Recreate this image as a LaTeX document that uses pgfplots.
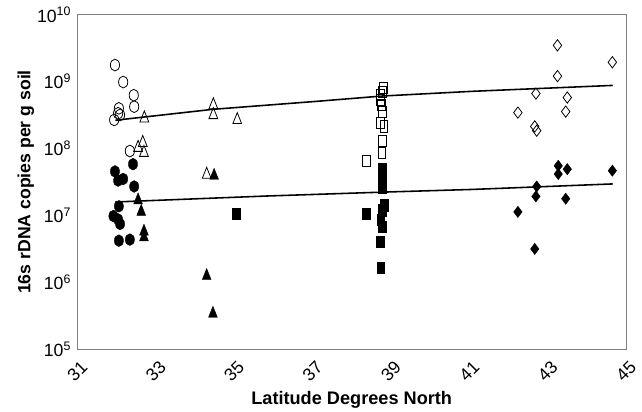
\documentclass[border=0pt]{standalone}
\usepackage{fontspec}
\setmainfont{Liberation Sans}
\usepackage{pgfplots}
\pgfplotsset{compat=1.18}
\begin{document}
\begin{tikzpicture}
\begin{axis}[
  width=557bp, height=339.5bp, scale only axis,
  xmin=31, xmax=45,
  ymode=log, ymin=1e5, ymax=1e10,
  xtick={31,33,35,37,39,41,43,45},
  xticklabels={31,33,35,37,39,41,43,45},
  ytick={1e5,1e6,1e7,1e8,1e9,1e10},
  yticklabels={10\textsuperscript{5},10\textsuperscript{6},10\textsuperscript{7},10\textsuperscript{8},10\textsuperscript{9},10\textsuperscript{10}},
  major tick length=0pt, minor tick length=0pt,
  axis line style={draw=black!50, line width=0.9pt},
  tick label style={font=\fontsize{18}{20}\selectfont},
  xticklabel style={yshift=-22bp, rotate=45, anchor=center},
  yticklabel style={xshift=-3bp},
  xlabel={Latitude Degrees North},
  ylabel={16s rDNA copies per g soil},
  xlabel style={font=\bfseries\fontsize{18.5}{20}\selectfont, at={(axis description cs:0.5,-0.152)}, anchor=center},
  ylabel style={font=\bfseries\fontsize{18}{20}\selectfont, at={(axis description cs:-0.094,0.5)}, anchor=center},
]
% open circles
\addplot[only marks, mark=o, mark size=6pt, mark options={xscale=0.78, line width=0.8pt, draw=black}]
coordinates {(31.96,1.77e9) (32.17,9.87e8) (32.44,6.27e8) (32.45,4.23e8) (32.06,3.99e8) (32.04,3.37e8) (31.94,2.68e8) (32.09,3.18e8) (32.34,9.18e7)};
% filled circles
\addplot[only marks, mark=*, mark size=6pt, mark options={xscale=0.78, draw=black, fill=black}]
coordinates {(32.42,5.84e7) (31.96,4.55e7) (32.04,3.32e7) (32.17,3.51e7) (32.45,2.71e7) (32.06,1.37e7) (31.92,9.8e6) (32.04,8.73e6) (32.09,7.46e6) (32.06,4.2e6) (32.34,4.35e6)};
% open triangles
\addplot[only marks, mark=triangle, mark size=5.75pt, mark options={xscale=0.9, yscale=1.3, line width=0.8pt, draw=black}]
coordinates {(32.71,2.84e8) (34.47,4.46e8) (34.47,3.18e8) (35.08,2.68e8) (32.55,1.03e8) (32.67,1.22e8) (32.70,8.67e7) (34.30,4.07e7)};
% filled triangles
\addplot[only marks, mark=triangle*, mark size=5.75pt, mark options={xscale=0.9, yscale=1.3, draw=black, fill=black}]
coordinates {(34.49,3.94e7) (32.55,1.69e7) (32.63,1.14e7) (32.70,5.76e6) (32.70,4.74e6) (34.30,1.25e6) (34.46,3.41e5)};
% open squares
\addplot[only marks, mark=square, mark size=5pt, mark options={xscale=0.8, yscale=1.15, line width=0.8pt, draw=black}]
coordinates {(38.80,8.05e8) (38.78,7.03e8) (38.74,6.27e8) (38.74,5.28e8) (38.76,4.46e8) (38.78,3.57e8) (38.74,2.40e8) (38.82,2.14e8) (38.78,1.29e8) (38.77,8.67e7) (38.37,6.55e7)};
% filled squares
\addplot[only marks, mark=square*, mark size=5pt, mark options={xscale=0.8, yscale=1.15, draw=black, fill=black}]
coordinates {(38.78,4.92e7) (38.78,3.94e7) (38.78,3.13e7) (38.78,2.65e7) (38.82,1.42e7) (38.78,1.20e7) (38.74,8.6e6) (38.78,6.83e6) (38.73,4.1e6) (38.74,1.66e6) (38.37,1.07e7) (35.06,1.07e7)};
% open diamonds
\addplot[only marks, mark=diamond, mark size=5.75pt, mark options={line width=0.8pt, draw=black}]
coordinates {(43.25,3.49e9) (44.65,1.95e9) (43.25,1.21e9) (42.70,6.64e8) (43.50,5.79e8) (43.46,3.57e8) (42.24,3.45e8) (42.67,2.14e8) (42.72,1.85e8)};
% filled diamonds
\addplot[only marks, mark=diamond*, mark size=5.75pt, mark options={draw=black, fill=black}]
coordinates {(43.27,5.52e7) (43.27,4.16e7) (43.50,4.92e7) (44.65,4.67e7) (42.72,2.71e7) (42.70,1.93e7) (43.46,1.78e7) (42.24,1.13e7) (42.67,3.16e6)};
% regression lines
\addplot[black, line width=1.6pt, no marks]
coordinates {(31.97,2.65e8) (34.46,3.86e8) (37.07,5.06e8) (38.78,6.1e8) (41.09,7.18e8) (44.66,8.79e8)};
\addplot[black, line width=1.6pt, no marks]
coordinates {(31.97,1.59e7) (35.81,1.95e7) (38.78,2.23e7) (41.09,2.45e7) (44.66,2.96e7)};
\end{axis}
\path (current axis.south west) ++(-78.5bp,-61bp);
\path (current axis.north east) ++(6.5bp,15bp);
\end{tikzpicture}
\end{document}
